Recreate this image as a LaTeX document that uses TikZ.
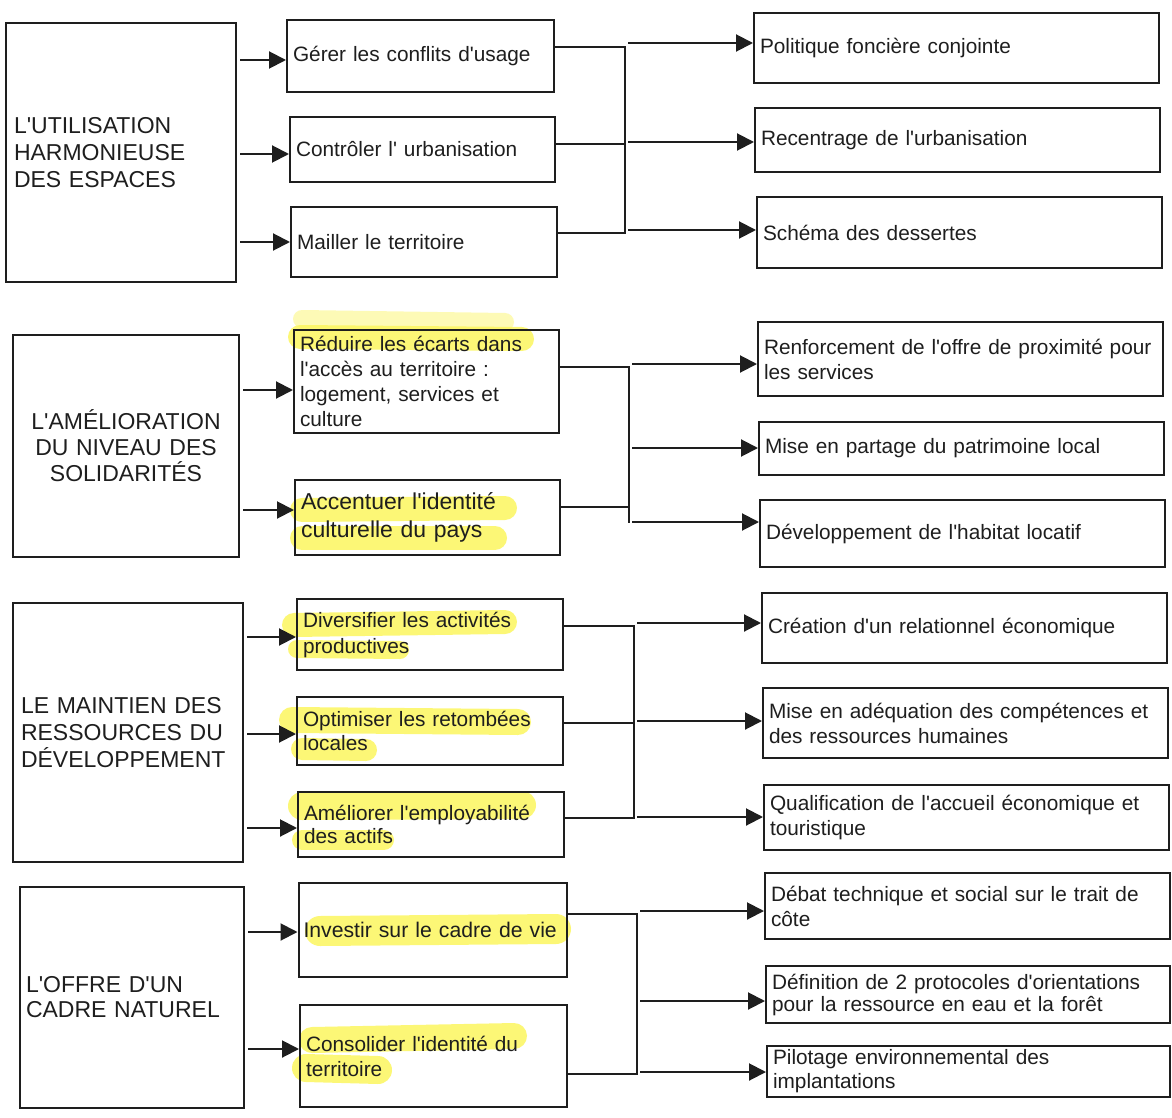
\documentclass[tikz,border=0pt]{standalone}
\usepackage{fontspec}
\setmainfont{Liberation Sans}[Ligatures=TeXOff]
\usetikzlibrary{arrows.meta}
\definecolor{ink}{RGB}{30,30,30}
\definecolor{hl}{RGB}{252,246,95}
\tikzset{
 box/.style={draw=ink, line width=1pt, inner xsep=3pt, inner ysep=0pt, align=left, text=ink},
 tsmall/.style={font=\fontsize{10.4pt}{12.5pt}\selectfont},
 tbig/.style={font=\fontsize{11.5pt}{13.5pt}\selectfont},
 link/.style={draw=ink, line width=1pt},
 arr/.style={link, -{Triangle[length=8.5pt,width=8.5pt]}, shorten <=1.5pt},
 hlt/.style={draw=hl, line cap=round, opacity=0.85},
}
\newcommand\mkbox[7]{%
 \pgfmathsetmacro\bw{(#4-#2)*0.5}%
 \pgfmathsetmacro\bh{(#5-#3)*0.5}%
 \pgfmathsetmacro\tw{(#4-#2)*0.5-6}%
 \node[box,minimum width=\bw pt,minimum height=\bh pt,text width=\tw pt,#6] (#1) at ({(#2+#4)/2},{(#3+#5)/2}) {#7};}
\begin{document}
\begin{tikzpicture}[x=0.5pt,y=-0.5pt]
\fill[white] (0,0) rectangle (1172,1118);
\useasboundingbox (0,0) rectangle (1172,1118);
% highlights
\draw[hlt,line width=9pt,opacity=0.45] (302,319) -- (505,322);
\draw[hlt,line width=12pt] (300,337) -- (522,339);
\draw[hlt,line width=12pt] (302,510) -- (505,508);
\draw[hlt,line width=12pt] (302,538) -- (495,538);
\draw[hlt,line width=12pt] (294,625) -- (505,622);
\draw[hlt,line width=9pt] (297,649) -- (400,650);
\draw[hlt,line width=13pt] (292,720) -- (518,722);
\draw[hlt,line width=11pt] (302,749) -- (366,750);
\draw[hlt,line width=14pt] (302,806) -- (522,805);
\draw[hlt,line width=10pt] (302,840) -- (384,840);
\draw[hlt,line width=15pt] (320,931) -- (556,929);
\draw[hlt,line width=13pt] (312,1040) -- (514,1036);
\draw[hlt,line width=14pt] (306,1068) -- (378,1070);
% section 1
\mkbox{L1}{8}{23}{234}{282}{tbig,inner xsep=4pt}{L'UTILISATION\\HARMONIEUSE\\DES ESPACES}
\mkbox{M1}{287}{20}{554}{92}{tsmall}{Gérer les conflits d'usage}
\mkbox{M2}{290}{117}{555}{182}{tsmall}{Contrôler l' urbanisation}
\mkbox{M3}{291}{207}{557}{277}{tsmall}{Mailler le territoire}
\mkbox{R1}{754}{13}{1159}{83}{tsmall}{Politique foncière conjointe}
\mkbox{R2}{755}{108}{1160}{172}{tsmall}{Recentrage de l'urbanisation}
\mkbox{R3}{757}{197}{1162}{268}{tsmall}{Schéma des dessertes}
% section 2
\mkbox{L2}{13}{335}{239}{557}{tbig,align=center,font=\fontsize{11.5pt}{13pt}\selectfont}{L'AMÉLIORATION\\DU NIVEAU DES\\SOLIDARITÉS}
\mkbox{M4}{294}{330}{559}{433}{tsmall}{Réduire les écarts dans\\l'accès au territoire :\\logement, services et\\culture}
\mkbox{M5}{295}{480}{560}{555}{font=\fontsize{11.5pt}{14pt}\selectfont}{Accentuer l'identité\\culturelle du pays}
\mkbox{R4}{758}{322}{1163}{396}{tsmall}{Renforcement de l'offre de proximité pour\\les services}
\mkbox{R5}{759}{422}{1164}{475}{tsmall}{Mise en partage du patrimoine local}
\mkbox{R6}{760}{500}{1165}{567}{tsmall}{Développement de l'habitat locatif}
% section 3
\mkbox{L3}{15}{603}{241}{862}{tbig,inner xsep=4pt}{LE MAINTIEN DES\\RESSOURCES DU\\DÉVELOPPEMENT}
\mkbox{M6}{297}{599}{563}{670}{tsmall,font=\fontsize{10.4pt}{13pt}\selectfont}{Diversifier les activités\\productives}
\mkbox{M7}{297}{697}{563}{765}{tsmall,font=\fontsize{10.4pt}{12pt}\selectfont}{Optimiser les retombées\\locales}
\mkbox{M8}{298}{792}{564}{857}{tsmall,font=\fontsize{10.4pt}{11.5pt}\selectfont}{Améliorer l'employabilité\\des actifs}
\mkbox{R7}{762}{593}{1167}{663}{tsmall}{Création d'un relationnel économique}
\mkbox{R8}{763}{688}{1168}{758}{tsmall}{Mise en adéquation des compétences et\\des ressources humaines}
\mkbox{R9}{764}{785}{1169}{850}{tsmall}{Qualification de l'accueil économique et\\touristique}
% section 4
\mkbox{L4}{20}{887}{244}{1108}{font=\fontsize{11.5pt}{12.5pt}\selectfont}{L'OFFRE D'UN\\CADRE NATUREL}
\mkbox{M9}{299}{883}{566}{977}{font=\fontsize{10.6pt}{13pt}\selectfont,inner xsep=2.5pt,text width=129pt}{Investir sur le cadre de vie}
\mkbox{M10}{300}{1005}{567}{1107}{tsmall}{Consolider l'identité du\\territoire}
\mkbox{R10}{765}{873}{1170}{939}{tsmall}{Débat technique et social sur le trait de\\côte}
\mkbox{R11}{766}{966}{1170}{1023}{font=\fontsize{10.4pt}{11pt}\selectfont}{Définition de 2 protocoles d'orientations\\pour la ressource en eau et la forêt}
\mkbox{R12}{767}{1046}{1170}{1097}{font=\fontsize{10.4pt}{12pt}\selectfont}{Pilotage environnemental des\\implantations}
% connectors section 1
\draw[arr] (L1.east |- 0,60) -- (M1.west |- 0,60);
\draw[arr] (L1.east |- 0,154) -- (M2.west |- 0,154);
\draw[arr] (L1.east |- 0,242) -- (M3.west |- 0,242);
\coordinate (b1t) at (625,47);
\coordinate (b1b) at (625,233);
\draw[link] (M1.east |- b1t) -- (b1t) -- (b1b) -- (M3.east |- b1b);
\draw[link] (M2.east |- 0,144) -- (b1t |- 0,144);
\draw[arr] (b1t |- 0,43) -- (R1.west |- 0,43);
\draw[arr] (b1t |- 0,142) -- (R2.west |- 0,142);
\draw[arr] (b1t |- 0,230) -- (R3.west |- 0,230);
% connectors section 2
\draw[arr] (L2.east |- 0,390) -- (M4.west |- 0,390);
\draw[arr] (L2.east |- 0,510) -- (M5.west |- 0,510);
\coordinate (b2t) at (629,367);
\coordinate (b2b) at (629,523);
\draw[link] (M4.east |- b2t) -- (b2t) -- (b2b);
\draw[link] (M5.east |- 0,507) -- (b2t |- 0,507);
\draw[arr] (b2t |- 0,364) -- (R4.west |- 0,364);
\draw[arr] (b2t |- 0,448) -- (R5.west |- 0,448);
\draw[arr] (b2t |- 0,522) -- (R6.west |- 0,522);
% connectors section 3
\draw[arr] (L3.east |- 0,637) -- (M6.west |- 0,637);
\draw[arr] (L3.east |- 0,734) -- (M7.west |- 0,734);
\draw[arr] (L3.east |- 0,828) -- (M8.west |- 0,828);
\coordinate (b3t) at (634,626);
\coordinate (b3b) at (634,818);
\draw[link] (M6.east |- b3t) -- (b3t) -- (b3b) -- (M8.east |- b3b);
\draw[link] (M7.east |- 0,723) -- (b3t |- 0,723);
\draw[arr] (b3t |- 0,623) -- (R7.west |- 0,623);
\draw[arr] (b3t |- 0,721) -- (R8.west |- 0,721);
\draw[arr] (b3t |- 0,817) -- (R9.west |- 0,817);
% connectors section 4
\draw[arr] (L4.east |- 0,932) -- (M9.west |- 0,932);
\draw[arr] (L4.east |- 0,1049) -- (M10.west |- 0,1049);
\coordinate (b4t) at (637,914);
\coordinate (b4b) at (637,1074);
\draw[link] (M9.east |- b4t) -- (b4t) -- (b4b) -- (M10.east |- b4b);
\draw[arr] (b4t |- 0,911) -- (R10.west |- 0,911);
\draw[arr] (b4t |- 0,1001) -- (R11.west |- 0,1001);
\draw[arr] (b4t |- 0,1072) -- (R12.west |- 0,1072);
\end{tikzpicture}
\end{document}
